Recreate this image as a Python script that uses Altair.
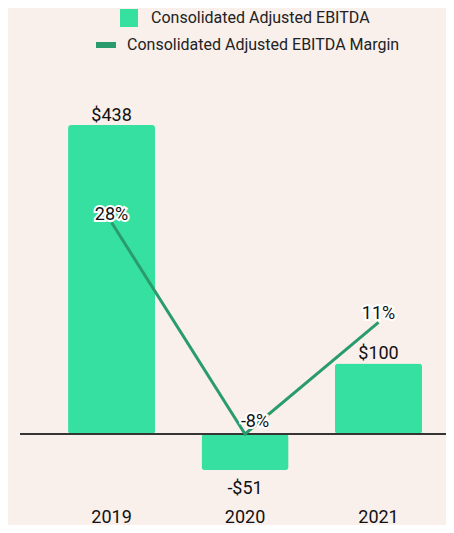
import altair as alt
import pandas as pd

years = ["2019", "2020", "2021"]
ebitda = [438, -51, 100]
ebitda_labels = ["$438", "-$51", "$100"]
margin = [28, -8, 11]
margin_labels = ["28%", "-8%", "11%"]

bar_name = "Consolidated Adjusted EBITDA"
line_name = "Consolidated Adjusted EBITDA Margin"

BG = "#f9efeb"
BAR = "#35e0a0"
LINE = "#2a9b6d"
FONT = "Roboto"
FS = 18

df = pd.DataFrame({
    "year": years,
    "ebitda": ebitda,
    "ebitda_label": ebitda_labels,
    "margin": margin,
    "margin_label": margin_labels,
    "bar_series": [bar_name] * 3,
    "line_series": [line_name] * 3,
})

xenc = alt.X("year:N", sort=years, title=None,
             scale=alt.Scale(paddingInner=0.348, paddingOuter=0.27, align=0.667),
             axis=alt.Axis(labelAngle=0, ticks=False, domain=False, labelFontSize=FS,
                           labelColor="#111", labelFont=FONT, labelPadding=22,
                           labelBaseline="alphabetic", grid=False))
yscale = alt.Scale(domain=[-93.5, 520.2], nice=False, zero=False)
yenc = alt.Y("ebitda:Q", scale=yscale, axis=None, title=None)

base = alt.Chart(df)

bars = base.mark_bar(cornerRadius=3).encode(
    x=xenc,
    y=yenc,
    fill=alt.Fill("bar_series:N",
                  scale=alt.Scale(domain=[bar_name], range=[BAR]),
                  legend=alt.Legend(title=None, orient="none", legendX=100, legendY=-58,
                                    symbolType="square", symbolSize=324,
                                    symbolStrokeWidth=0, labelLimit=0,
                                    labelFontSize=16, labelFont=FONT, labelColor="#222",
                                    labelOffset=13)),
)

zero = base.mark_rule(color="#333", strokeWidth=1.5).encode(y=alt.datum(0, scale=yscale))

pos_filter = alt.datum.ebitda >= 0
neg_filter = alt.datum.ebitda < 0

def bar_text(filt, dy, halo):
    t = base.transform_filter(filt)
    kw = dict(fontSize=FS, font=FONT, dy=dy, baseline="alphabetic", align="center")
    enc = dict(x=alt.X("year:N", sort=years), y=alt.Y("ebitda:Q", scale=yscale),
               text="ebitda_label:N")
    if halo:
        return t.mark_text(stroke=BG, strokeWidth=4, color=BG, **kw).encode(**enc)
    return t.mark_text(color="#111", **kw).encode(**enc)

bar_group = alt.layer(
    bars,
    bar_text(pos_filter, -4, True),
    bar_text(pos_filter, -4, False),
    bar_text(neg_filter, 24, False),
    zero,
)

lscale = alt.Scale(domain=[-19.23, 54.47], nice=False, zero=False)

line = base.mark_line(strokeWidth=3).encode(
    x=alt.X("year:N", sort=years),
    y=alt.Y("margin:Q", scale=lscale, axis=None),
    stroke=alt.Stroke("line_series:N",
                      scale=alt.Scale(domain=[line_name], range=[LINE]),
                      legend=alt.Legend(title=None, orient="none", legendX=73, legendY=-35,
                                        symbolType="stroke", symbolSize=400,
                                        symbolStrokeWidth=6, labelLimit=0,
                                        labelFontSize=16, labelFont=FONT, labelColor="#222",
                                        labelOffset=8)),
)

def line_text(filt, dx, dy, halo):
    t = base.transform_filter(filt)
    kw = dict(fontSize=FS, font=FONT, dx=dx, dy=dy, baseline="alphabetic", align="center")
    enc = dict(x=alt.X("year:N", sort=years), y=alt.Y("margin:Q", scale=lscale),
               text="margin_label:N")
    if halo:
        return t.mark_text(stroke="white", strokeWidth=4, color="white", **kw).encode(**enc)
    return t.mark_text(color="#111", **kw).encode(**enc)

mpos = alt.datum.margin >= 0
mneg = alt.datum.margin < 0

line_group = alt.layer(
    line,
    line_text(mpos, 0, -3, True),
    line_text(mneg, 10, -7, True),
    line_text(mpos, 0, -3, False),
    line_text(mneg, 10, -7, False),
)

chart = alt.layer(bar_group, line_group).resolve_scale(y="independent").properties(
    width=426,
    height=433,
    background=BG,
    autosize=alt.AutoSizeParams(type="none"),
    padding={"left": 12, "top": 59, "right": 0, "bottom": 25},
).configure_view(stroke=None)

chart.save("out.html", embed_options={"renderer": "svg", "actions": False})
